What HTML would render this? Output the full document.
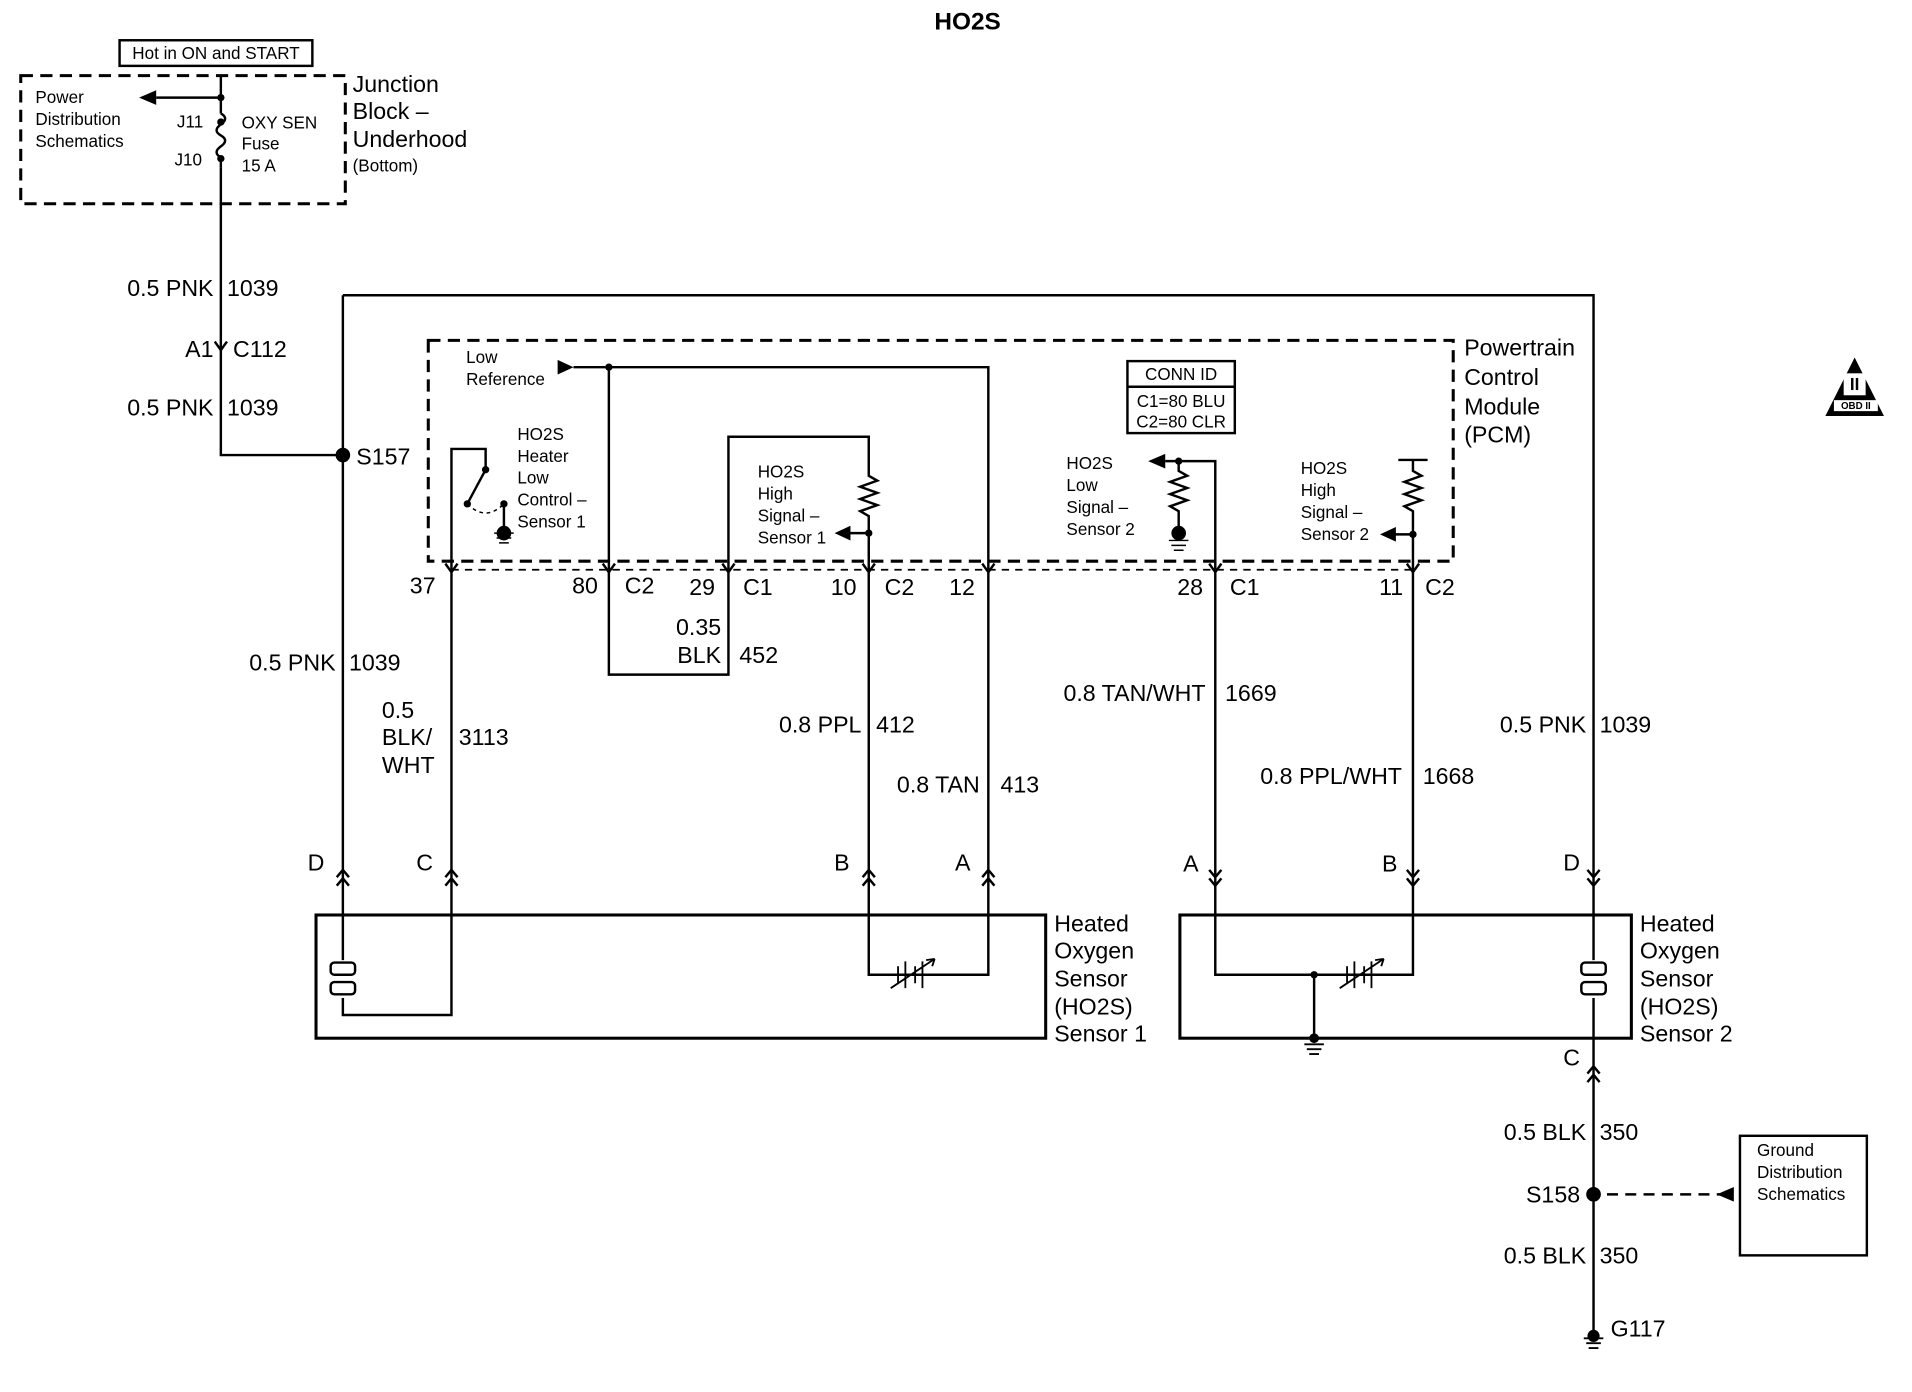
<!DOCTYPE html>
<html><head><meta charset="utf-8"><style>
html,body{margin:0;padding:0;background:#fff}
svg{display:block}
text{font-family:"Liberation Sans",sans-serif;fill:#000;dominant-baseline:central}
.b{font-size:19px}
.s{font-size:14px}
.t{font-size:20px;font-weight:bold}
</style></head><body>
<svg width="1912" height="1392" viewBox="0 0 1567 1141" preserveAspectRatio="none" xmlns="http://www.w3.org/2000/svg">
<g fill="none" stroke="#000" stroke-width="2">
<rect x="98" y="33" width="158" height="21"/>
<rect x="17" y="62" width="266" height="105" stroke-dasharray="10,6" stroke-width="2.5"/>
<path d="M181 62 V93 M181 137 V373 H281"/>
<path d="M181 93 q7 4 0 9 q-7 5 0 9 M181 111 q7 4 0 9 q-7 5 0 9 V137"/>
<path d="M128 80 H181"/>
<path d="M281 373 V720 M281 242 H1306 V720 M281 242 V373"/>
<rect x="351" y="279" width="840" height="181" stroke-dasharray="10,6" stroke-width="2.5"/>
<path d="M370 467 H1158" stroke-dasharray="6,5" stroke-width="1.5"/>
<path d="M470 301 H810 V467 M499 301 V467"/>
<path d="M370 467 V368 H398 V385 M383 413 L398 385 M413 413 V432"/>
<path d="M383 413 q15 15 30 0" stroke-dasharray="3,3" stroke-width="1.2"/>
<path d="M597 467 V358 H712 V390 l7 4 l-14 5 l14 5 l-14 5 l14 5 l-14 5 l7 4 V467 M712 437 H694"/>
<rect x="924" y="296" width="88" height="59"/>
<path d="M924 317 H1012"/>
<path d="M955 378 H996 V467 M966 378 V386 l7 4 l-14 5 l14 5 l-14 5 l14 5 l-14 5 l7 4 V432"/>
<path d="M1146 377 H1170 M1158 377 V386 l7 4 l-14 5 l14 5 l-14 5 l14 5 l-14 5 l7 4 V467 M1158 438 H1142"/>
<path d="M370 467 V720 M499 467 V553 H597 V467 M712 467 V720 M810 467 V720 M996 467 V720 M1158 467 V720"/>
<path d="M365 462 L370 469 L375 462 M494 462 L499 469 L504 462 M592 462 L597 469 L602 462 M707 462 L712 469 L717 462 M805 462 L810 469 L815 462 M991 462 L996 469 L1001 462 M1153 462 L1158 469 L1163 462 M176 280 L181 287 L186 280"/>
<path d="M276 719 L281 713 L286 719 M276 726 L281 720 L286 726 M365 719 L370 713 L375 719 M365 726 L370 720 L375 726 M707 719 L712 713 L717 719 M707 726 L712 720 L717 726 M805 719 L810 713 L815 719 M805 726 L810 720 L815 726"/>
<path d="M991 713 L996 719 L1001 713 M991 720 L996 726 L1001 720 M1153 713 L1158 719 L1163 713 M1153 720 L1158 726 L1163 720 M1301 713 L1306 719 L1311 713 M1301 720 L1306 726 L1311 720 M1301 880 L1306 874 L1311 880 M1301 887 L1306 881 L1311 887"/>
<rect x="259" y="750" width="598" height="101" stroke-width="2.5"/>
<path d="M281 720 V787 M281 818 V832 H370 V720"/>
<rect x="271" y="789" width="20" height="10" rx="3"/><rect x="271" y="805" width="20" height="10" rx="3"/>
<path d="M712 720 V799 H810 V720"/>
<path d="M736 792 V806 M742 788 V810 M750 792 V806 M756 788 V810 M730 810 L766 786 l-7 1 M766 786 l-2 6" stroke-width="1.5"/>
<rect x="967" y="750" width="370" height="101" stroke-width="2.5"/>
<path d="M996 720 V799 H1158 V720 M1077 799 V851"/>
<path d="M1104 792 V806 M1110 788 V810 M1118 792 V806 M1124 788 V810 M1098 810 L1134 786 l-7 1 M1134 786 l-2 6" stroke-width="1.5"/>
<path d="M1306 720 V787 M1306 818 V1095"/>
<rect x="1296" y="789" width="20" height="10" rx="3"/><rect x="1296" y="805" width="20" height="10" rx="3"/>
<path d="M1069 856 H1085 M1071 860 H1083 M1073 864 H1081" stroke-width="1.5"/>
<path d="M1317 979 H1410" stroke-dasharray="9,6"/>
<rect x="1426" y="931" width="104" height="98"/>
<path d="M1298 1097 H1314 M1300 1101 H1312 M1302 1105 H1310" stroke-width="1.5"/>
<path d="M405 437 H421 M407 441 H419 M409 445 H417" stroke-width="1.2"/>
<path d="M958 443 H974 M960 447 H972 M962 451 H970" stroke-width="1.2"/>
</g>
<g fill="#000">
<circle cx="181" cy="80" r="3"/><circle cx="181" cy="100" r="3"/><circle cx="181" cy="130" r="3"/>
<circle cx="281" cy="373" r="6"/><circle cx="1306" cy="979" r="6"/>
<circle cx="499" cy="301" r="3"/><circle cx="398" cy="385" r="3"/><circle cx="383" cy="413" r="3"/><circle cx="413" cy="413" r="3"/>
<circle cx="413" cy="437" r="6"/><circle cx="966" cy="378" r="3"/><circle cx="966" cy="437" r="6"/>
<circle cx="712" cy="437" r="3"/><circle cx="1158" cy="438" r="3"/><circle cx="1077" cy="799" r="3"/><circle cx="1306" cy="1095" r="5"/><circle cx="1077" cy="851" r="4"/>
<polygon points="114,80 128,74 128,86"/>
<polygon points="470,301 457,295 457,307"/>
<polygon points="684,437 697,431 697,443"/>
<polygon points="941,378 955,372 955,384"/>
<polygon points="1131,438 1144,432 1144,444"/>
<polygon points="1407,979 1421,973 1421,985"/>
<polygon points="1520,293 1496,341 1544,341"/>
</g>
<rect x="1511" y="306" width="18" height="18" fill="#fff"/>
<text x="1520" y="315" text-anchor="middle" style="font-size:14px;font-weight:bold">II</text>
<rect x="1503" y="328" width="36" height="9" fill="#fff"/>
<text x="1521" y="333" text-anchor="middle" style="font-size:8px;font-weight:bold">OBD II</text>

<text class="t" x="793" y="18" text-anchor="middle">HO2S</text>
<text class="s" x="177" y="44" text-anchor="middle">Hot in ON and START</text>
<text class="s" x="29" y="80">Power</text><text class="s" x="29" y="98">Distribution</text><text class="s" x="29" y="116">Schematics</text>
<text class="s" x="145" y="100">J11</text><text class="s" x="143" y="131">J10</text>
<text class="s" x="198" y="101">OXY SEN</text><text class="s" x="198" y="118">Fuse</text><text class="s" x="198" y="136">15 A</text>
<text class="b" x="289" y="69">Junction</text><text class="b" x="289" y="91">Block –</text><text class="b" x="289" y="114">Underhood</text><text class="s" x="289" y="136">(Bottom)</text>
<text class="b" x="175" y="236" text-anchor="end">0.5 PNK</text><text class="b" x="186" y="236">1039</text>
<text class="b" x="175" y="286" text-anchor="end">A1</text><text class="b" x="191" y="286">C112</text>
<text class="b" x="175" y="334" text-anchor="end">0.5 PNK</text><text class="b" x="186" y="334">1039</text>
<text class="b" x="292" y="374">S157</text>
<text class="b" x="1200" y="285">Powertrain</text><text class="b" x="1200" y="309">Control</text><text class="b" x="1200" y="333">Module</text><text class="b" x="1200" y="356">(PCM)</text>
<text class="b" x="357" y="480" text-anchor="end">37</text>
<text class="b" x="490" y="480" text-anchor="end">80</text><text class="b" x="512" y="480">C2</text>
<text class="b" x="586" y="481" text-anchor="end">29</text><text class="b" x="609" y="481">C1</text>
<text class="b" x="702" y="481" text-anchor="end">10</text><text class="b" x="725" y="481">C2</text>
<text class="b" x="799" y="481" text-anchor="end">12</text>
<text class="b" x="986" y="481" text-anchor="end">28</text><text class="b" x="1008" y="481">C1</text>
<text class="b" x="1150" y="481" text-anchor="end">11</text><text class="b" x="1168" y="481">C2</text>
<text class="b" x="591" y="514" text-anchor="end">0.35</text><text class="b" x="591" y="537" text-anchor="end">BLK</text><text class="b" x="606" y="537">452</text>
<text class="b" x="275" y="543" text-anchor="end">0.5 PNK</text><text class="b" x="286" y="543">1039</text>
<text class="b" x="313" y="582">0.5</text><text class="b" x="313" y="604">BLK/</text><text class="b" x="313" y="627">WHT</text><text class="b" x="376" y="604">3113</text>
<text class="b" x="706" y="594" text-anchor="end">0.8 PPL</text><text class="b" x="718" y="594">412</text>
<text class="b" x="803" y="643" text-anchor="end">0.8 TAN</text><text class="b" x="820" y="643">413</text>
<text class="b" x="988" y="568" text-anchor="end">0.8 TAN/WHT</text><text class="b" x="1004" y="568">1669</text>
<text class="b" x="1149" y="636" text-anchor="end">0.8 PPL/WHT</text><text class="b" x="1166" y="636">1668</text>
<text class="b" x="1300" y="594" text-anchor="end">0.5 PNK</text><text class="b" x="1311" y="594">1039</text>
<text class="b" x="259" y="707" text-anchor="middle">D</text><text class="b" x="348" y="707" text-anchor="middle">C</text>
<text class="b" x="690" y="707" text-anchor="middle">B</text><text class="b" x="789" y="707" text-anchor="middle">A</text>
<text class="b" x="976" y="708" text-anchor="middle">A</text><text class="b" x="1139" y="708" text-anchor="middle">B</text><text class="b" x="1288" y="707" text-anchor="middle">D</text>
<text class="b" x="1288" y="867" text-anchor="middle">C</text>
<text class="b" x="864" y="757">Heated</text><text class="b" x="864" y="779">Oxygen</text><text class="b" x="864" y="802">Sensor</text><text class="b" x="864" y="825">(HO2S)</text><text class="b" x="864" y="847">Sensor 1</text>
<text class="b" x="1344" y="757">Heated</text><text class="b" x="1344" y="779">Oxygen</text><text class="b" x="1344" y="802">Sensor</text><text class="b" x="1344" y="825">(HO2S)</text><text class="b" x="1344" y="847">Sensor 2</text>
<text class="b" x="1300" y="928" text-anchor="end">0.5 BLK</text><text class="b" x="1311" y="928">350</text>
<text class="b" x="1295" y="979" text-anchor="end">S158</text>
<text class="b" x="1300" y="1029" text-anchor="end">0.5 BLK</text><text class="b" x="1311" y="1029">350</text>
<text class="b" x="1320" y="1089">G117</text>
<text class="s" x="382" y="293">Low</text><text class="s" x="382" y="311">Reference</text>
<text class="s" x="424" y="356">HO2S</text><text class="s" x="424" y="374">Heater</text><text class="s" x="424" y="392">Low</text><text class="s" x="424" y="410">Control –</text><text class="s" x="424" y="428">Sensor 1</text>
<text class="s" x="621" y="387">HO2S</text><text class="s" x="621" y="405">High</text><text class="s" x="621" y="423">Signal –</text><text class="s" x="621" y="441">Sensor 1</text>
<text class="s" x="968" y="307" text-anchor="middle">CONN ID</text><text class="s" x="968" y="329" text-anchor="middle">C1=80 BLU</text><text class="s" x="968" y="346" text-anchor="middle">C2=80 CLR</text>
<text class="s" x="874" y="380">HO2S</text><text class="s" x="874" y="398">Low</text><text class="s" x="874" y="416">Signal –</text><text class="s" x="874" y="434">Sensor 2</text>
<text class="s" x="1066" y="384">HO2S</text><text class="s" x="1066" y="402">High</text><text class="s" x="1066" y="420">Signal –</text><text class="s" x="1066" y="438">Sensor 2</text>
<text class="s" x="1440" y="943">Ground</text><text class="s" x="1440" y="961">Distribution</text><text class="s" x="1440" y="979">Schematics</text>
</svg>
</body></html>
